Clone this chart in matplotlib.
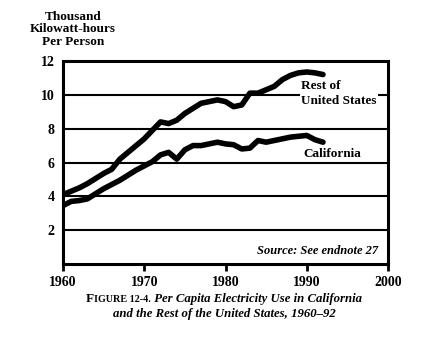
import matplotlib
matplotlib.use("Agg")
import matplotlib.pyplot as plt

years = list(range(1960, 1993))
rest_us = [4.1, 4.3, 4.5, 4.75, 5.05, 5.35, 5.6, 6.2, 6.6, 7.0, 7.4, 7.9, 8.4, 8.3, 8.5,
           8.9, 9.2, 9.5, 9.6, 9.7, 9.6, 9.3, 9.4, 10.1, 10.1, 10.3, 10.5, 10.9, 11.15,
           11.3, 11.35, 11.3, 11.2]
california = [3.45, 3.7, 3.75, 3.85, 4.15, 4.45, 4.7, 4.95, 5.25, 5.55, 5.8, 6.05, 6.45,
              6.6, 6.2, 6.75, 7.0, 7.0, 7.1, 7.2, 7.1, 7.05, 6.8, 6.85, 7.3, 7.2, 7.3, 7.4,
              7.5, 7.55, 7.6, 7.35, 7.2]
x_ticks = [1960, 1970, 1980, 1990, 2000]
y_ticks = [2, 4, 6, 8, 10, 12]

SERIF = "Liberation Serif"

fig = plt.figure(figsize=(4.32, 3.52), dpi=100)
ax = fig.add_axes([63/432, 1-264/352, (388-63)/432, (264-61)/352])

ax.set_xlim(1960, 2000)
ax.set_ylim(0, 12)
for v in [2, 4, 6, 8, 10]:
    ax.axhline(v, color="black", lw=1.5, zorder=1)
for series in (rest_us, california):
    ax.plot(years, series, color="black", lw=4.0, solid_capstyle="round",
            solid_joinstyle="round", zorder=3)

for s in ax.spines.values():
    s.set_linewidth(2.2)
    s.set_color("black")

ax.set_xticks(x_ticks)
ax.set_xticklabels([str(t) for t in x_ticks], fontfamily=SERIF, fontweight="bold", fontsize=10)
ax.set_yticks(y_ticks)
ax.set_yticklabels([str(t) for t in y_ticks], fontfamily=SERIF, fontweight="bold", fontsize=10)
ax.tick_params(axis="x", length=5, width=2, direction="out", pad=4)
ax.tick_params(axis="y", length=0, pad=6)

fig.text(73/432, 1-11/352, "Thousand\nKilowatt-hours\nPer Person", ha="center", va="top",
         fontfamily=SERIF, fontweight="bold", fontsize=9.5, linespacing=1.05)

fig.text(301/432, 1-93.5/352, "Rest of\nUnited States", ha="left", va="center",
         fontfamily=SERIF, fontweight="bold", fontsize=9.5, linespacing=1.4,
         bbox=dict(facecolor="white", edgecolor="none", pad=1.0), zorder=5)
fig.text(303/432, 1-154/352, "California", ha="left", va="center",
         fontfamily=SERIF, fontweight="bold", fontsize=9.5)
fig.text(378/432, 1-251/352, "Source: See endnote 27", ha="right", va="center",
         fontfamily=SERIF, fontweight="bold", fontstyle="italic", fontsize=9)

# Caption: small-caps "FIGURE 12-4." followed by bold italic title
renderer = fig.canvas.get_renderer()
pieces = [("F", 9.5, "normal"), ("IGURE 12-4.", 7.3, "normal"),
          (" Per Capita Electricity Use in California", 9.2, "italic")]
texts = []
for s, size, style in pieces:
    t = fig.text(0, 0, s, fontfamily=SERIF, fontweight="bold", fontstyle=style,
                 fontsize=size, ha="left", va="baseline")
    texts.append(t)
widths = [t.get_window_extent(renderer).width for t in texts]
total = sum(widths)
x0 = 224 - total / 2
base_y = 352 - 302
x = x0
for t, w in zip(texts, widths):
    t.set_transform(None)
    t.set_position((x, base_y))
    x += w

fig.text(224/432, 1-314/352, "and the Rest of the United States, 1960\u201392",
         ha="center", va="center", fontfamily=SERIF, fontweight="bold", fontstyle="italic",
         fontsize=9.2)

fig.savefig("out.png", dpi=100)
